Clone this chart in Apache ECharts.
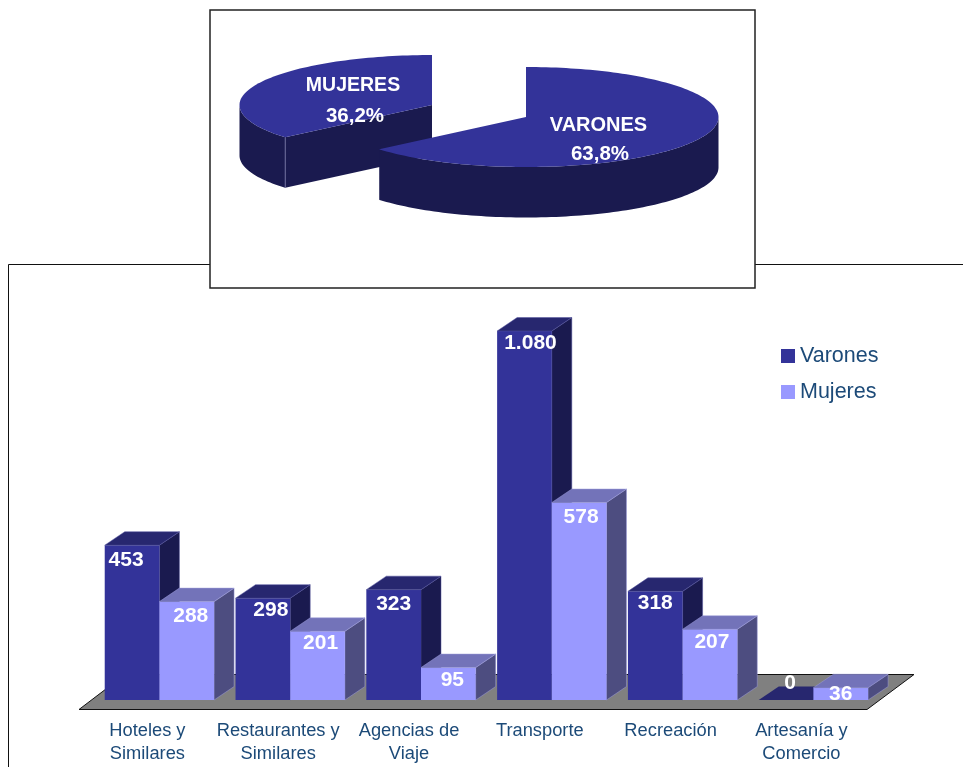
<!DOCTYPE html>
<html>
<head>
<meta charset="utf-8">
<style>html,body{margin:0;padding:0;background:#fff}#c{width:963px;height:767px}</style>
<script src="https://cdn.jsdelivr.net/npm/echarts@6/dist/echarts.min.js"></script>
</head>
<body>
<div id="c"></div>
<script>
var categories = ['Hoteles y\nSimilares', 'Restaurantes y\nSimilares', 'Agencias de\nViaje', 'Transporte', 'Recreación', 'Artesanía y\nComercio'];
var varones = [453, 298, 323, 1080, 318, 0];
var mujeres = [288, 201, 95, 578, 207, 36];
var pieCategories = ['VARONES', 'MUJERES'];
var pieShares = [63.8, 36.2];

// Label nudges relative to bar centre / bar top (styling, not data)
var varonesLabelDx = [-6, 8, 0, 6, 0, 4];
var varonesLabelDy = [15, 12, 15, 12, 12, -17];
var mujeresLabelDx = [4, 3, 4, 2, 2, 0];
var mujeresLabelDy = [15, 12, 13, 15, 13, 7];

var FONT = '"Liberation Sans", Arial, sans-serif';
var DEPTH_X = 20, DEPTH_Y = 13.5, BAR_RATIO = 0.418;

function fmt(v) { return String(v).replace(/\B(?=(\d{3})+$)/g, '.'); }

function barRenderer(side, colors, dxs, dys) {
  return function (params, api) {
    var i = api.value(0), v = api.value(1);
    var base = api.coord([i, 0]), top = api.coord([i, v]);
    var w = api.size([1, 0])[0] * BAR_RATIO;
    var x0 = side < 0 ? base[0] - w : base[0], x1 = x0 + w;
    var y0 = base[1], y1 = top[1];
    var kids = [];
    if (v > 0) {
      kids.push({ type: 'polygon', shape: { points: [[x1, y1], [x1 + DEPTH_X, y1 - DEPTH_Y], [x1 + DEPTH_X, y0 - DEPTH_Y], [x1, y0]] }, style: { fill: colors.side, stroke: colors.edge, lineWidth: 0.5 } });
      kids.push({ type: 'rect', shape: { x: x0, y: y1, width: w, height: y0 - y1 }, style: { fill: colors.front } });
    }
    kids.push({ type: 'polygon', shape: { points: [[x0, y1], [x0 + DEPTH_X, y1 - DEPTH_Y], [x1 + DEPTH_X, y1 - DEPTH_Y], [x1, y1]] }, style: { fill: colors.top, stroke: v > 0 ? colors.edge : null, lineWidth: 0.5 } });
    kids.push({ type: 'text', style: { text: fmt(v), x: (x0 + x1) / 2 + dxs[i], y: y1 + dys[i], fill: '#fff', font: 'bold 21px ' + FONT, textAlign: 'center', textVerticalAlign: 'middle' } });
    return { type: 'group', children: kids };
  };
}

var PIE_RX = 192.5, PIE_RY = 50, PIE_DEPTH = 50.5;
var pieCenters = [[526, 117], [432, 105]];
var pieLabelPos = [[[598.5, 125], [600, 154]], [[353, 86], [355, 116]]];
var pieNameSize = [20, 19.5];

function piePt(c, deg, dy) {
  var a = deg * Math.PI / 180;
  return [c[0] + PIE_RX * Math.sin(a), c[1] - PIE_RY * Math.cos(a) + (dy || 0)];
}

function pieRender(params, api) {
  var idx = api.value(0), share = api.value(1);
  var start = 0;
  for (var k = 0; k < idx; k++) start += pieShares[k] * 3.6;
  var end = start + share * 3.6;
  var c = pieCenters[idx];
  var kids = [];
  // outer wall, front part of the rim only
  var wallFrom = Math.max(start, 90), wallTo = Math.min(end, 270);
  if (wallTo > wallFrom) {
    var upper = [], lower = [];
    for (var d = wallFrom; d < wallTo; d += 1.5) { upper.push(piePt(c, d)); lower.push(piePt(c, d, PIE_DEPTH)); }
    upper.push(piePt(c, wallTo)); lower.push(piePt(c, wallTo, PIE_DEPTH));
    kids.push({ type: 'polygon', shape: { points: upper.concat(lower.reverse()) }, style: { fill: '#1a1a4f' } });
  }
  // cut face toward the viewer
  if (start > 180 && start < 270) {
    var e = piePt(c, start);
    kids.push({ type: 'polygon', shape: { points: [c, e, [e[0], e[1] + PIE_DEPTH], [c[0], c[1] + PIE_DEPTH]] }, style: { fill: '#1a1a4f' } });
    kids.push({ type: 'line', shape: { x1: e[0], y1: e[1], x2: e[0], y2: e[1] + PIE_DEPTH }, style: { stroke: '#6a6a9a', lineWidth: 1 } });
  }
  // top face
  var face = [c];
  for (var t = start; t < end; t += 1.5) face.push(piePt(c, t));
  face.push(piePt(c, end));
  kids.push({ type: 'polygon', shape: { points: face }, style: { fill: '#333399' } });
  var pos = pieLabelPos[idx];
  kids.push({ type: 'text', style: { text: pieCategories[idx], x: pos[0][0], y: pos[0][1], fill: '#fff', font: 'bold ' + pieNameSize[idx] + 'px ' + FONT, textAlign: 'center', textVerticalAlign: 'middle' } });
  kids.push({ type: 'text', style: { text: share.toFixed(1).replace('.', ',') + '%', x: pos[1][0], y: pos[1][1], fill: '#fff', font: 'bold 20.5px ' + FONT, textAlign: 'center', textVerticalAlign: 'middle' } });
  return { type: 'group', children: kids };
}

var chart = echarts.init(document.getElementById('c'), null, { renderer: 'canvas' });
chart.setOption({
  animation: false,
  backgroundColor: '#fff',
  grid: { left: 94, right: 84.2, top: 290, bottom: 67, containLabel: false, outerBoundsMode: 'none' },
  xAxis: {
    type: 'category', data: categories,
    axisLine: { show: false }, axisTick: { show: false },
    axisLabel: { interval: 0, margin: 19, color: '#1c4a78', fontFamily: FONT, fontSize: 18.3, lineHeight: 23, padding: [0, 24, 0, 0], hideOverlap: false }
  },
  yAxis: { type: 'value', min: 0, max: 1200, show: false, splitLine: { show: false } },
  legend: {
    data: ['Varones', 'Mujeres'], orient: 'vertical', left: 776, top: 340, icon: 'rect',
    itemWidth: 14, itemHeight: 14, itemGap: 14,
    textStyle: { color: '#1c4a78', fontFamily: FONT, fontSize: 21.5, padding: [0, 0, 14, 0] }, selectedMode: false
  },
  graphic: { elements: [
    { type: 'polyline', z: 0, shape: { points: [[8.5, 767], [8.5, 264.5], [963, 264.5]] }, style: { stroke: '#111', lineWidth: 1, fill: null } },
    { type: 'rect', z: 1, shape: { x: 210, y: 10, width: 545, height: 278 }, style: { fill: '#fff', stroke: '#222', lineWidth: 1.5 } },
    { type: 'polygon', z: 1, shape: { points: [[79, 709.5], [125, 674.5], [914, 674.5], [867, 709.5]] }, style: { fill: '#808080', stroke: '#111', lineWidth: 1 } }
  ] },
  series: [
    { type: 'custom', name: 'Varones', coordinateSystem: 'cartesian2d', z: 3, itemStyle: { color: '#333399' },
      data: varones.map(function (v, i) { return [i, v]; }), encode: { x: 0, y: 1 },
      renderItem: barRenderer(-1, { front: '#333399', top: '#27276f', side: '#1a1a4f', edge: '#55559f' }, varonesLabelDx, varonesLabelDy), clip: false },
    { type: 'custom', name: 'Mujeres', coordinateSystem: 'cartesian2d', z: 4, itemStyle: { color: '#9999ff' },
      data: mujeres.map(function (v, i) { return [i, v]; }), encode: { x: 0, y: 1 },
      renderItem: barRenderer(1, { front: '#9999ff', top: '#7373b9', side: '#4d4d80', edge: '#9a9ad8' }, mujeresLabelDx, mujeresLabelDy), clip: false },
    { type: 'custom', name: 'Reparto', coordinateSystem: 'none', z: 5,
      data: pieShares.map(function (v, i) { return [i, v]; }).reverse(),
      renderItem: pieRender }
  ]
});
</script>
</body>
</html>
